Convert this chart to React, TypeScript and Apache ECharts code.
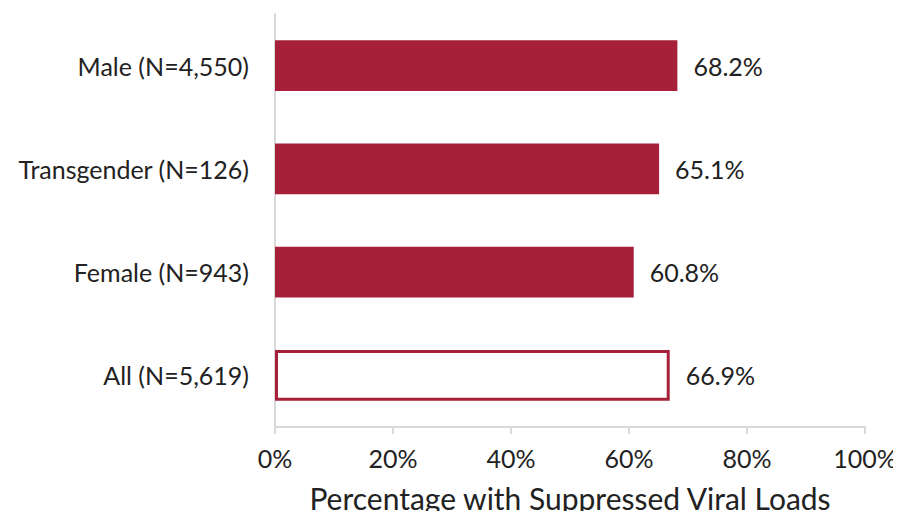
import React, { useEffect, useRef } from "react";
import * as echarts from "echarts";

const categories = ["Male (N=4,550)", "Transgender (N=126)", "Female (N=943)", "All (N=5,619)"];
const values = [68.2, 65.1, 60.8, 66.9];
const hollow = [false, false, false, true];
const xTicks = [0, 20, 40, 60, 80, 100];
const axisTitle = "Percentage with Suppressed Viral Loads";

const RED = "#A6203A";
const FONT = "Lato, 'Open Sans', sans-serif";

export default function App() {
  const ref = useRef<HTMLDivElement>(null);
  useEffect(() => {
    if (!ref.current) return;
    const chart = echarts.init(ref.current, null, { renderer: "svg" });
    chart.setOption({
      animation: false,
      grid: { left: 275, right: 36, top: 14, bottom: 92 },
      xAxis: {
        type: "value",
        min: xTicks[0],
        max: xTicks[xTicks.length - 1],
        interval: 20,
        name: axisTitle,
        nameLocation: "middle",
        nameGap: 56,
        nameTextStyle: { fontSize: 30, color: "#222", fontFamily: FONT },
        axisLine: { show: true, lineStyle: { color: "#d9d9d9", width: 2 } },
        axisTick: { show: true, length: 7, lineStyle: { color: "#d9d9d9", width: 2 } },
        splitLine: { show: false },
        axisLabel: {
          formatter: (v: number) => `${v}%`,
          fontSize: 25,
          color: "#222",
          margin: 18,
          fontFamily: FONT,
        },
      },
      yAxis: {
        type: "category",
        data: categories,
        inverse: true,
        axisLine: { show: true, lineStyle: { color: "#d9d9d9", width: 2 } },
        axisTick: { show: false },
        axisLabel: { fontSize: 25, color: "#222", margin: 26, fontFamily: FONT },
      },
      series: [
        {
          type: "bar",
          barWidth: "49%",
          data: values.map((v, i) => ({
            value: v,
            itemStyle: hollow[i]
              ? { color: "#ffffff", borderColor: RED, borderWidth: 3 }
              : { color: RED },
          })),
          label: {
            show: true,
            position: "right",
            distance: 16,
            formatter: (p: any) => `${Number(p.value).toFixed(1)}%`,
            fontSize: 25,
            color: "#222",
            fontFamily: FONT,
          },
        },
      ],
    });
    return () => chart.dispose();
  }, []);
  return <div ref={ref} style={{ width: 901, height: 519, margin: -8 }} />;
}
